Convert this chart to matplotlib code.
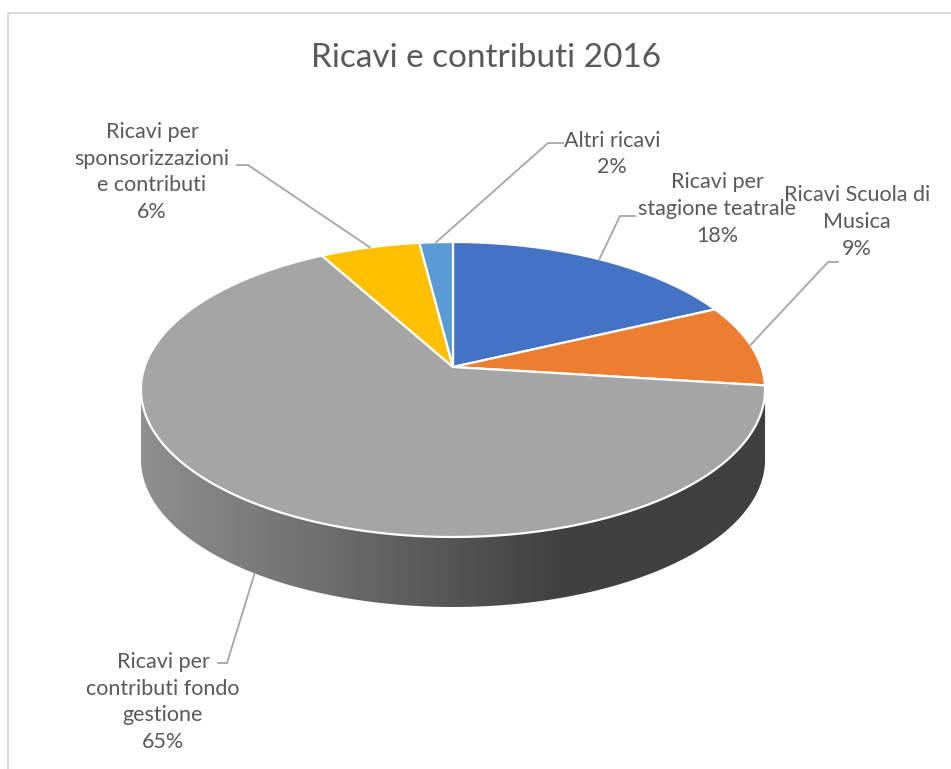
import numpy as np
import matplotlib
matplotlib.use("Agg")
import matplotlib.pyplot as plt
from matplotlib.patches import Polygon, Rectangle
from matplotlib.colors import LinearSegmentedColormap, to_rgb

# data
names = ["Ricavi per\nstagione teatrale", "Ricavi Scuola di\nMusica",
         "Ricavi per\ncontributi fondo\ngestione",
         "Ricavi per\nsponsorizzazioni\ne contributi", "Altri ricavi"]
values = [18, 9, 65, 6, 2]
colors = ["#4472c4", "#ed7d31", "#a5a5a5", "#ffc000", "#5b9bd5"]

# label layout: text centre, leader start, elbow x
label_pos = [(717, 209), (857, 222), (163, 702), (152, 172), (612, 154)]
leader_start = [(635, 216), (838, 262), (218, 663), (237, 165), (563, 143)]
elbow_x = [620, 828, 227, 248, 548]

plt.rcParams['font.family'] = ['Lato', 'DejaVu Sans']
text_col = "#595959"

fig = plt.figure(figsize=(9.51, 7.69), dpi=100)
ax = fig.add_axes([0, 0, 1, 1])
ax.set_xlim(0, 951)
ax.set_ylim(769, 0)
ax.axis('off')

# pie geometry (pixel space, simple perspective)
cx, cy = 453, 367
s, a, c = 308.4, 88.1, -0.1525
depth = 70


def project(theta, drop=0.0):
    t = np.radians(theta)
    u, v = np.sin(t), -np.cos(t)
    d = 1 + c * v
    return cx + s * u / d, (a * v + cy) / d + drop


total = sum(values)
starts = np.cumsum([0] + values[:-1]) / total * 360
ends = np.cumsum(values) / total * 360

# visible side range (front half)
th_lo = np.degrees(np.arccos(c))
th_hi = 360 - th_lo

# sides
for st, en, col in zip(starts, ends, colors):
    lo, hi = max(st, th_lo), min(en, th_hi)
    if lo >= hi:
        continue
    th = np.linspace(lo, hi, 200)
    xt, yt = project(th)
    xb, yb = project(th[::-1], depth)
    pts = np.column_stack([np.r_[xt, xb], np.r_[yt, yb]])
    poly = Polygon(pts, closed=True, facecolor='none', edgecolor='none')
    ax.add_patch(poly)
    base = np.array(to_rgb(col))
    cmap = LinearSegmentedColormap.from_list(
        "side", [base * 0.87, base * 0.64, base * 0.39, base * 0.39], N=256)
    x0, x1 = pts[:, 0].min(), pts[:, 0].max()
    y0, y1 = pts[:, 1].min(), pts[:, 1].max()
    grad = np.linspace(0, 1, 256)[None, :]
    im = ax.imshow(grad, cmap=cmap, extent=[x0, x1, y1, y0], aspect='auto', zorder=1)
    im.set_clip_path(poly)

# top faces
for st, en, col in zip(starts, ends, colors):
    th = np.linspace(st, en, 200)
    xs, ys = project(th)
    pts = np.column_stack([np.r_[cx, xs], np.r_[cy, ys]])
    ax.add_patch(Polygon(pts, closed=True, facecolor=col, edgecolor='white',
                         linewidth=1.6, joinstyle='round', zorder=2))

# labels and leader lines
for i, (nm, v) in enumerate(zip(names, values)):
    mid = (starts[i] + ends[i]) / 2
    drop = depth if th_lo <= mid <= th_hi else 0
    axx, ayy = project(mid, drop)
    sx, sy = leader_start[i]
    ax.plot([sx, elbow_x[i], axx], [sy, sy, ayy], color="#a6a6a6", lw=1.3, zorder=3)
    tx, ty = label_pos[i]
    ax.text(tx, ty, f"{nm}\n{v}%", ha='center', va='center', fontsize=15.5,
            color=text_col, linespacing=1.42, zorder=4)

ax.text(486, 58, "Ricavi e contributi 2016", ha='center', va='center',
        fontsize=24, color=text_col)

# chart frame
ax.add_patch(Rectangle((8, 13), 960, 780, facecolor='none', edgecolor="#d9d9d9",
                       linewidth=1.5, zorder=0))

fig.savefig("out.png", dpi=100)
